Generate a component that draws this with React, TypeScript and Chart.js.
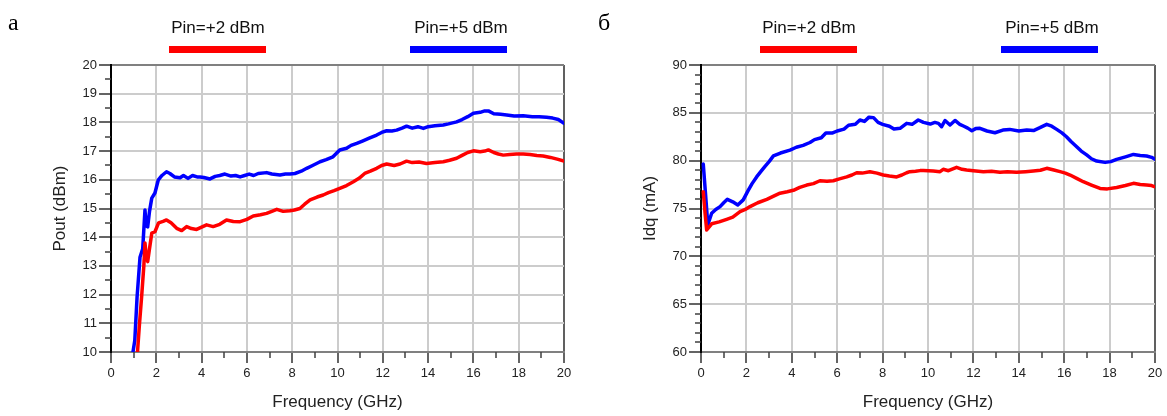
import React, { useEffect, useRef } from 'react';
import { Chart, registerables } from 'chart.js';

Chart.register(...registerables);

const FONT = '"Liberation Sans", Arial, sans-serif';

// ---------- Data: chart "а" (Pout, dBm) ----------
const poutFreq5 = [0.97, 1.05, 1.15, 1.28, 1.4, 1.5, 1.55, 1.62, 1.7, 1.8, 1.94, 2.09, 2.25, 2.45, 2.6, 2.8, 3.05, 3.2, 3.4, 3.6, 3.8, 3.93, 4.1, 4.37, 4.6, 4.8, 5.03, 5.3, 5.5, 5.7, 5.9, 6.1, 6.3, 6.5, 6.87, 7.1, 7.46, 7.7, 7.9, 8.12, 8.4, 8.64, 8.9, 9.23, 9.5, 9.8, 10.1, 10.4, 10.6, 10.85, 11.1, 11.4, 11.73, 11.95, 12.17, 12.4, 12.61, 12.85, 13.05, 13.3, 13.55, 13.79, 14.0, 14.3, 14.67, 14.9, 15.26, 15.5, 15.75, 16.0, 16.3, 16.5, 16.66, 16.9, 17.2, 17.47, 17.8, 18.2, 18.6, 18.9, 19.23, 19.5, 19.75, 20.0];
const poutVal5 = [10.0, 10.4, 11.9, 13.3, 13.6, 14.95, 14.4, 14.36, 14.9, 15.36, 15.54, 16.0, 16.15, 16.28, 16.22, 16.1, 16.07, 16.15, 16.05, 16.15, 16.1, 16.1, 16.08, 16.03, 16.12, 16.15, 16.2, 16.13, 16.15, 16.1, 16.15, 16.2, 16.15, 16.22, 16.25, 16.2, 16.17, 16.2, 16.2, 16.22, 16.3, 16.4, 16.5, 16.63, 16.7, 16.8, 17.04, 17.1, 17.2, 17.27, 17.35, 17.45, 17.56, 17.65, 17.71, 17.7, 17.73, 17.8, 17.87, 17.8, 17.85, 17.79, 17.85, 17.88, 17.91, 17.95, 18.02, 18.1, 18.2, 18.32, 18.35, 18.4, 18.4, 18.3, 18.28, 18.26, 18.22, 18.23, 18.2, 18.2, 18.18, 18.15, 18.1, 17.97];

const poutFreq2 = [1.17, 1.25, 1.35, 1.45, 1.5, 1.56, 1.62, 1.7, 1.8, 1.94, 2.1, 2.3, 2.45, 2.65, 2.9, 3.12, 3.34, 3.55, 3.78, 4.0, 4.22, 4.51, 4.8, 5.1, 5.4, 5.7, 6.0, 6.28, 6.6, 6.87, 7.1, 7.32, 7.6, 7.9, 8.1, 8.34, 8.55, 8.79, 9.1, 9.37, 9.6, 9.85, 10.1, 10.4, 10.7, 10.95, 11.2, 11.45, 11.73, 11.95, 12.17, 12.5, 12.76, 13.05, 13.3, 13.6, 13.93, 14.3, 14.67, 14.95, 15.26, 15.5, 15.75, 16.0, 16.3, 16.5, 16.66, 16.9, 17.1, 17.32, 17.6, 17.9, 18.2, 18.5, 18.8, 19.08, 19.4, 19.7, 20.0];
const poutVal2 = [10.0, 10.9, 11.9, 13.0, 13.8, 13.3, 13.15, 13.6, 14.14, 14.19, 14.5, 14.55, 14.6, 14.5, 14.31, 14.23, 14.37, 14.3, 14.27, 14.35, 14.43, 14.37, 14.45, 14.6, 14.55, 14.54, 14.62, 14.74, 14.78, 14.83, 14.9, 14.97, 14.9, 14.92, 14.95, 15.0, 15.15, 15.3, 15.4, 15.47, 15.55, 15.62, 15.7, 15.8, 15.93, 16.05, 16.22, 16.3, 16.4, 16.5, 16.55, 16.5, 16.55, 16.65, 16.6, 16.62, 16.57, 16.6, 16.63, 16.68, 16.75, 16.85, 16.95, 17.01, 16.98, 17.0, 17.04, 16.95, 16.9, 16.86, 16.88, 16.9, 16.9, 16.88, 16.85, 16.83, 16.78, 16.72, 16.65];

// ---------- Data: chart "б" (Idq, mA) ----------
const idqFreq5 = [0.1, 0.2, 0.3, 0.47, 0.65, 0.84, 1.0, 1.16, 1.4, 1.62, 1.86, 2.08, 2.25, 2.45, 2.65, 2.82, 3.0, 3.19, 3.5, 3.92, 4.2, 4.5, 4.8, 5.0, 5.3, 5.5, 5.8, 6.0, 6.3, 6.5, 6.8, 7.0, 7.2, 7.4, 7.6, 7.8, 8.0, 8.3, 8.5, 8.77, 9.06, 9.3, 9.57, 9.8, 10.1, 10.3, 10.46, 10.6, 10.75, 10.97, 11.19, 11.4, 11.56, 11.75, 11.93, 12.1, 12.29, 12.6, 12.95, 13.3, 13.6, 14.0, 14.35, 14.65, 14.93, 15.23, 15.45, 15.67, 15.9, 16.1, 16.3, 16.55, 16.75, 16.99, 17.2, 17.43, 17.8, 18.05, 18.31, 18.7, 19.05, 19.35, 19.63, 19.85, 20.0];
const idqVal5 = [79.65, 76.5, 73.3, 74.5, 74.9, 75.2, 75.6, 75.96, 75.7, 75.37, 75.9, 76.9, 77.6, 78.3, 78.9, 79.4, 79.9, 80.5, 80.8, 81.1, 81.4, 81.6, 81.9, 82.2, 82.4, 82.9, 82.9, 83.1, 83.3, 83.7, 83.8, 84.25, 84.1, 84.55, 84.5, 84.0, 83.8, 83.6, 83.3, 83.38, 83.9, 83.8, 84.25, 84.0, 83.83, 84.0, 83.9, 83.55, 84.2, 83.73, 84.2, 83.8, 83.62, 83.4, 83.13, 83.35, 83.38, 83.1, 82.92, 83.2, 83.27, 83.1, 83.2, 83.15, 83.45, 83.8, 83.6, 83.27, 82.9, 82.5, 82.0, 81.46, 81.0, 80.6, 80.2, 79.96, 79.82, 79.9, 80.14, 80.4, 80.65, 80.55, 80.49, 80.35, 80.14];

const idqFreq2 = [0.1, 0.18, 0.25, 0.47, 0.8, 1.13, 1.4, 1.72, 1.95, 2.16, 2.5, 2.9, 3.2, 3.48, 3.8, 4.07, 4.35, 4.66, 4.95, 5.24, 5.55, 5.83, 6.1, 6.42, 6.65, 6.86, 7.1, 7.44, 7.75, 8.03, 8.3, 8.62, 8.85, 9.06, 9.2, 9.45, 9.65, 9.8, 10.23, 10.53, 10.67, 10.9, 11.26, 11.5, 11.7, 12.0, 12.44, 12.8, 13.17, 13.5, 13.9, 14.3, 14.64, 14.95, 15.23, 15.5, 15.82, 16.05, 16.26, 16.55, 16.84, 17.2, 17.58, 17.9, 18.31, 18.7, 19.05, 19.35, 19.63, 19.85, 20.0];
const idqVal2 = [76.76, 74.5, 72.75, 73.4, 73.6, 73.87, 74.1, 74.67, 74.9, 75.2, 75.6, 75.96, 76.3, 76.6, 76.75, 76.9, 77.2, 77.45, 77.6, 77.9, 77.85, 77.9, 78.1, 78.3, 78.5, 78.74, 78.7, 78.85, 78.7, 78.5, 78.4, 78.3, 78.5, 78.74, 78.85, 78.9, 78.96, 78.96, 78.92, 78.85, 79.1, 78.95, 79.3, 79.1, 79.02, 78.95, 78.85, 78.9, 78.78, 78.85, 78.78, 78.85, 78.92, 79.0, 79.2, 79.05, 78.85, 78.7, 78.5, 78.15, 77.8, 77.45, 77.1, 77.05, 77.2, 77.4, 77.63, 77.5, 77.45, 77.4, 77.27];

// ---------- Ticks ----------
const freqMinorTicks = [1, 3, 5, 7, 9, 11, 13, 15, 17, 19];
const poutMinorTicks = [10.5, 11.5, 12.5, 13.5, 14.5, 15.5, 16.5, 17.5, 18.5, 19.5];
const idqMinorTicks = [61, 62, 63, 64, 66, 67, 68, 69, 71, 72, 73, 74, 76, 77, 78, 79, 81, 82, 83, 84, 86, 87, 88, 89];

const legendLabels = ['Pin=+2 dBm', 'Pin=+5 dBm'];
const seriesColors = ['#ff0000', '#0000ff'];

const minorTickPlugin = {
  id: 'minorTicks',
  afterDraw(chart: any, _args: any, opts: any) {
    const { ctx, chartArea, scales } = chart;
    ctx.save();
    ctx.strokeStyle = '#404040';
    ctx.lineWidth = 1.5;
    ctx.beginPath();
    for (const v of opts.x || []) {
      const px = Math.round(scales.x.getPixelForValue(v));
      ctx.moveTo(px, chartArea.bottom);
      ctx.lineTo(px, chartArea.bottom + 6);
    }
    for (const v of opts.y || []) {
      const py = Math.round(scales.y.getPixelForValue(v));
      ctx.moveTo(chartArea.left - 6, py);
      ctx.lineTo(chartArea.left, py);
    }
    ctx.stroke();
    ctx.restore();
  },
};

type PanelProps = {
  width: number;
  yTitle: string;
  yMin: number;
  yMax: number;
  yStep: number;
  yMinor: number[];
  f2: number[];
  v2: number[];
  f5: number[];
  v5: number[];
  padRight: number;
};

function Panel(p: PanelProps) {
  const ref = useRef<HTMLCanvasElement | null>(null);
  useEffect(() => {
    if (!ref.current) return;
    const chart = new Chart(ref.current, {
      type: 'line',
      data: {
        datasets: [
          {
            label: legendLabels[0],
            data: p.f2.map((f, i) => ({ x: f, y: p.v2[i] })),
            borderColor: seriesColors[0],
            backgroundColor: seriesColors[0],
            borderWidth: 3.5,
            pointRadius: 0,
            tension: 0,
            borderJoinStyle: 'round',
            borderCapStyle: 'round',
          },
          {
            label: legendLabels[1],
            data: p.f5.map((f, i) => ({ x: f, y: p.v5[i] })),
            borderColor: seriesColors[1],
            backgroundColor: seriesColors[1],
            borderWidth: 3.5,
            pointRadius: 0,
            tension: 0,
            borderJoinStyle: 'round',
            borderCapStyle: 'round',
          },
        ],
      },
      options: {
        responsive: false,
        animation: false,
        devicePixelRatio: 1,
        layout: { padding: { left: 41, top: 65, right: p.padRight, bottom: 0 } },
        plugins: {
          legend: { display: false },
          tooltip: { enabled: false },
          minorTicks: { x: freqMinorTicks, y: p.yMinor },
        } as any,
        scales: {
          x: {
            type: 'linear',
            min: 0,
            max: 20,
            afterFit: (s: any) => { s.height = 64; },
            ticks: {
              stepSize: 2,
              autoSkip: false,
              maxRotation: 0,
              padding: 3,
              color: '#222',
              font: { family: FONT, size: 13 },
            },
            grid: {
              color: (c: any) => (c.tick && c.tick.value === 20 ? '#606060' : '#cccccc'),
              lineWidth: 2,
              tickLength: 11,
              tickColor: '#303030',
              tickWidth: 1.5,
            },
            border: { color: '#808080', width: 2 },
            title: {
              display: true,
              text: 'Frequency (GHz)',
              color: '#222',
              font: { family: FONT, size: 17 },
              padding: { top: 0, bottom: 3 },
            },
          },
          y: {
            type: 'linear',
            min: p.yMin,
            max: p.yMax,
            afterFit: (s: any) => { s.width = 70; },
            ticks: {
              stepSize: p.yStep,
              autoSkip: false,
              padding: 2,
              color: '#222',
              font: { family: FONT, size: 13 },
            },
            grid: {
              color: (c: any) => (c.tick && c.tick.value === p.yMax ? '#808080' : '#cccccc'),
              lineWidth: 2,
              tickLength: 12,
              tickColor: '#303030',
              tickWidth: 1.5,
            },
            border: { color: '#000000', width: 2 },
            title: {
              display: true,
              text: p.yTitle,
              color: '#222',
              font: { family: FONT, size: 17 },
              padding: { top: 9, bottom: 0 },
            },
          },
        },
      },
      plugins: [minorTickPlugin],
    } as any);
    return () => chart.destroy();
  }, []);
  return <canvas ref={ref} width={p.width} height={416} style={{ display: 'block', width: p.width, height: 416 }} />;
}

const textStyle: React.CSSProperties = {
  position: 'absolute',
  fontFamily: FONT,
  fontSize: 17,
  lineHeight: '20px',
  color: '#111',
  textAlign: 'center',
  whiteSpace: 'nowrap',
};

function Legend({ offset }: { offset: number }) {
  const items = [
    { center: 218, barLeft: 169, color: seriesColors[0], text: legendLabels[0] },
    { center: 461, barLeft: 410, color: seriesColors[1], text: legendLabels[1] },
  ];
  return (
    <>
      {items.map((it, i) => (
        <React.Fragment key={i}>
          <div style={{ ...textStyle, left: offset + it.center - 70, width: 140, top: 18 }}>{it.text}</div>
          <div style={{ position: 'absolute', left: offset + it.barLeft, top: 46, width: 97, height: 7, background: it.color }} />
        </React.Fragment>
      ))}
    </>
  );
}

export default function App() {
  const letterStyle: React.CSSProperties = {
    position: 'absolute',
    fontFamily: '"Liberation Serif", "Times New Roman", serif',
    fontSize: 24,
    lineHeight: '28px',
    color: '#000',
    top: 8,
  };
  return (
    <div style={{ position: 'absolute', left: 0, top: 0, width: 1167, height: 416, background: '#fff', overflow: 'hidden' }}>
      <div style={{ position: 'absolute', left: 0, top: 0 }}>
        <Panel width={590} yTitle="Pout (dBm)" yMin={10} yMax={20} yStep={1} yMinor={poutMinorTicks}
          f2={poutFreq2} v2={poutVal2} f5={poutFreq5} v5={poutVal5} padRight={26} />
      </div>
      <div style={{ position: 'absolute', left: 590, top: 0 }}>
        <Panel width={577} yTitle="Idq (mA)" yMin={60} yMax={90} yStep={5} yMinor={idqMinorTicks}
          f2={idqFreq2} v2={idqVal2} f5={idqFreq5} v5={idqVal5} padRight={12} />
      </div>
      <Legend offset={0} />
      <Legend offset={591} />
      <div style={{ ...letterStyle, left: 8 }}>а</div>
      <div style={{ ...letterStyle, left: 598 }}>б</div>
    </div>
  );
}
